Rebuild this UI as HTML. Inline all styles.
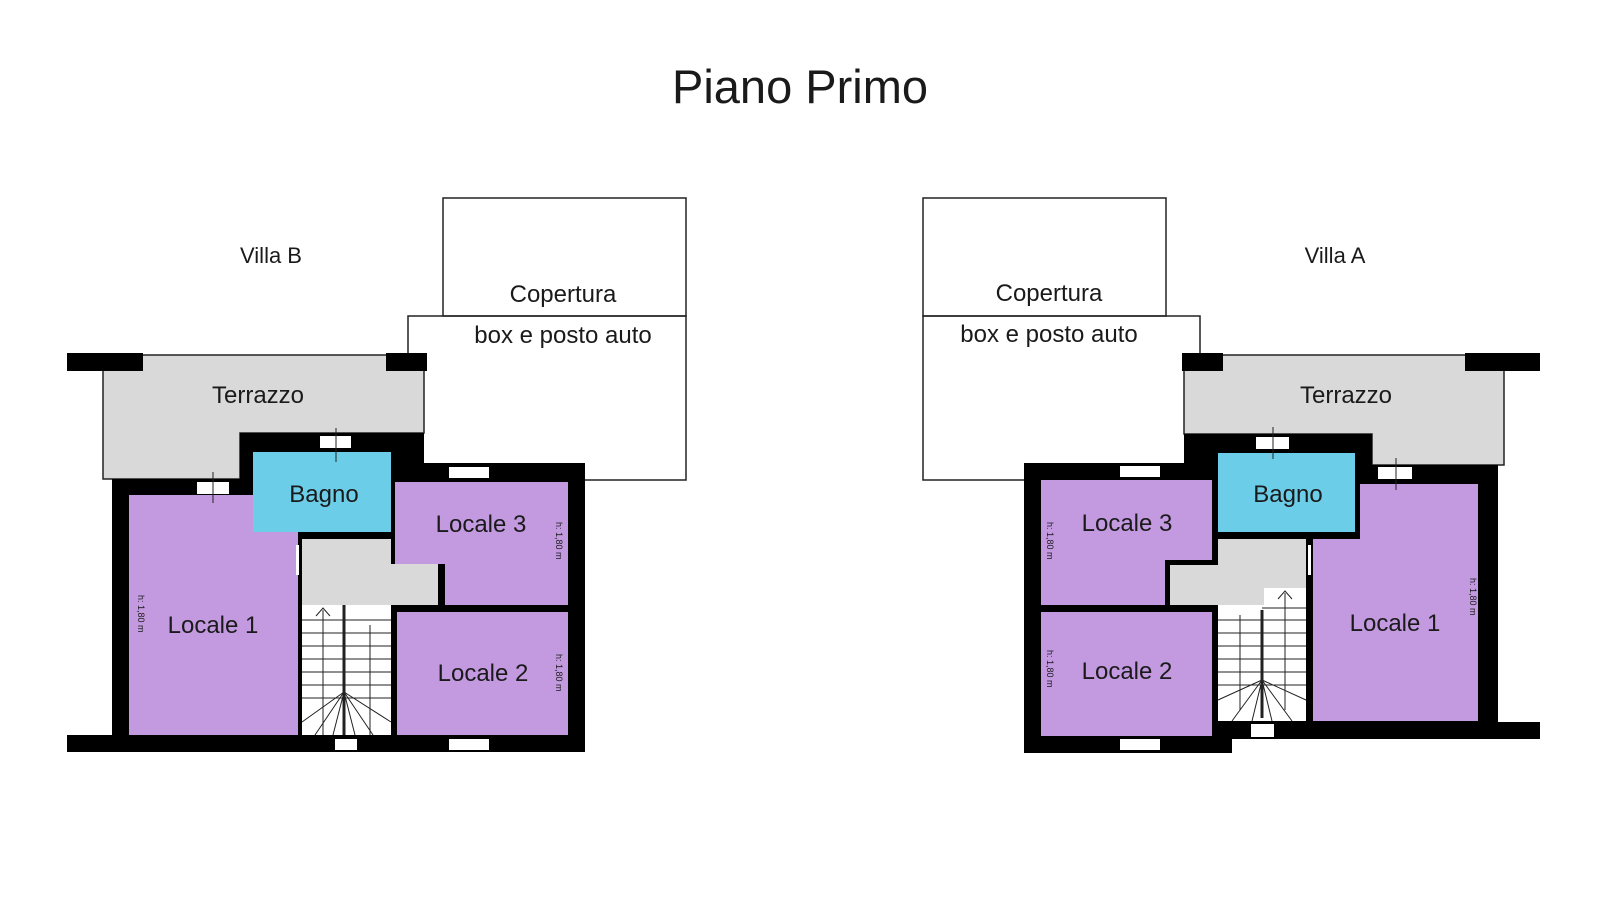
<!DOCTYPE html>
<html><head><meta charset="utf-8"><style>html,body{margin:0;padding:0;background:#fff}svg{display:block}text{font-family:"Liberation Sans",sans-serif;fill:#1a1a1a}</style></head>
<body>
<svg width="1600" height="900" viewBox="0 0 1600 900" xmlns="http://www.w3.org/2000/svg">
<rect width="1600" height="900" fill="#fff"/>
<text x="800" y="103" font-size="47" text-anchor="middle">Piano Primo</text>

<!-- ===== Villa B (left) ===== -->
<text x="271" y="263" font-size="22" text-anchor="middle">Villa B</text>
<rect x="443" y="198" width="243" height="118" fill="none" stroke="#222" stroke-width="1.5"/>
<rect x="408" y="316" width="278" height="164" fill="none" stroke="#222" stroke-width="1.5"/>
<text x="563" y="302" font-size="24" text-anchor="middle">Copertura</text>
<text x="563" y="343" font-size="24" text-anchor="middle">box e posto auto</text>
<polygon points="103,355 424,355 424,433 240,433 240,479 103,479" fill="#d9d9d9" stroke="#222" stroke-width="1.5"/>
<rect x="67" y="353" width="76" height="18" fill="#000"/>
<rect x="386" y="353" width="41" height="18" fill="#000"/>
<polygon points="112,479 240,479 240,433 424,433 424,463 585,463 585,752 67,752 67,735 112,735" fill="#000"/>
<rect x="129" y="495" width="169" height="240" fill="#c39ae0"/>
<rect x="253" y="452" width="138" height="80" fill="#6ccde8"/>
<polygon points="302,539 391,539 391,564 438,564 438,605 302,605" fill="#d9d9d9"/>
<rect x="302" y="605" width="89" height="130" fill="#fff"/>
<polygon points="395,482 568,482 568,605 445,605 445,564 395,564" fill="#c39ae0"/>
<rect x="397" y="612" width="171" height="123" fill="#c39ae0"/>
<g fill="#fff"><rect x="197" y="482" width="32" height="12"/><rect x="320" y="436" width="31" height="12"/><rect x="449" y="467" width="40" height="11"/><rect x="335" y="739" width="22" height="11"/><rect x="449" y="739" width="40" height="11"/><rect x="296" y="545" width="3" height="30"/></g>
<g stroke="#222" stroke-width="1" fill="none"><line x1="213" y1="472" x2="213" y2="503"/><line x1="336" y1="428" x2="336" y2="462"/>
<line x1="344" y1="605" x2="344" y2="735" stroke-width="3"/>
<path d="M323,735 V610 M316,616 L323,608 L330,616 M370,735 V625"/>
<path d="M302,620h42M302,633h42M302,646h42M302,659h42M302,672h42M302,685h42M302,698h42M344,620h47M344,633h47M344,646h47M344,659h47M344,672h47M344,685h47M344,698h47"/>
<path d="M344,692 L302,722 M344,692 L315,735 M344,692 L333,735 M344,692 L355,735 M344,692 L373,735 M344,692 L391,722"/></g>
<text x="324" y="502" font-size="24" text-anchor="middle">Bagno</text>
<text x="481" y="532" font-size="24" text-anchor="middle">Locale 3</text>
<text x="213" y="633" font-size="24" text-anchor="middle">Locale 1</text>
<text x="483" y="681" font-size="24" text-anchor="middle">Locale 2</text>
<text x="258" y="403" font-size="24" text-anchor="middle">Terrazzo</text>
<g font-size="9" fill="#555"><text transform="translate(138,595) rotate(90)">h: 1,80  m</text><text transform="translate(556,522) rotate(90)">h: 1,80  m</text><text transform="translate(556,654) rotate(90)">h: 1,80  m</text></g>

<!-- ===== Villa A (right) ===== -->
<text x="1335" y="263" font-size="22" text-anchor="middle">Villa A</text>
<rect x="923" y="198" width="243" height="118" fill="none" stroke="#222" stroke-width="1.5"/>
<rect x="923" y="316" width="277" height="164" fill="none" stroke="#222" stroke-width="1.5"/>
<text x="1049" y="301" font-size="24" text-anchor="middle">Copertura</text>
<text x="1049" y="342" font-size="24" text-anchor="middle">box e posto auto</text>
<polygon points="1184,355 1504,355 1504,465 1372,465 1372,434 1184,434" fill="#d9d9d9" stroke="#222" stroke-width="1.5"/>
<rect x="1182" y="353" width="41" height="18" fill="#000"/>
<rect x="1465" y="353" width="75" height="18" fill="#000"/>
<polygon points="1024,463 1184,463 1184,434 1372,434 1372,465 1498,465 1498,722 1540,722 1540,739 1232,739 1232,753 1024,753" fill="#000"/>
<polygon points="1041,480 1212,480 1212,560 1165,560 1165,605 1041,605" fill="#c39ae0"/>
<rect x="1041" y="612" width="171" height="124" fill="#c39ae0"/>
<rect x="1218" y="453" width="137" height="79" fill="#6ccde8"/>
<polygon points="1218,539 1306,539 1306,605 1170,605 1170,565 1218,565" fill="#d9d9d9"/>
<rect x="1218" y="605" width="88" height="116" fill="#fff"/>
<rect x="1264" y="588" width="42" height="20" fill="#fff"/>
<polygon points="1360,484 1478,484 1478,721 1313,721 1313,539 1360,539" fill="#c39ae0"/>
<g fill="#fff"><rect x="1256" y="437" width="33" height="12"/><rect x="1378" y="467" width="34" height="12"/><rect x="1120" y="466" width="40" height="11"/><rect x="1120" y="739" width="40" height="11"/><rect x="1251" y="724" width="23" height="13"/><rect x="1308" y="545" width="3" height="30"/></g>
<g stroke="#222" stroke-width="1" fill="none"><line x1="1273" y1="427" x2="1273" y2="459"/><line x1="1396" y1="458" x2="1396" y2="490"/>
<line x1="1262" y1="610" x2="1262" y2="718" stroke-width="3"/>
<path d="M1285,710 V593 M1278,599 L1285,591 L1292,599 M1240,710 V615"/>
<path d="M1218,620h44M1218,633h44M1218,646h44M1218,659h44M1218,672h44M1218,685h44M1262,608h44M1262,620h44M1262,633h44M1262,646h44M1262,659h44M1262,672h44M1262,685h44"/>
<path d="M1262,680 L1218,700 M1262,680 L1232,721 M1262,680 L1252,721 M1262,680 L1272,721 M1262,680 L1292,721 M1262,680 L1306,700"/></g>
<text x="1346" y="403" font-size="24" text-anchor="middle">Terrazzo</text>
<text x="1288" y="502" font-size="24" text-anchor="middle">Bagno</text>
<text x="1127" y="531" font-size="24" text-anchor="middle">Locale 3</text>
<text x="1127" y="679" font-size="24" text-anchor="middle">Locale 2</text>
<text x="1395" y="631" font-size="24" text-anchor="middle">Locale 1</text>
<g font-size="9" fill="#555"><text transform="translate(1047,522) rotate(90)">h: 1,80  m</text><text transform="translate(1047,650) rotate(90)">h: 1,80  m</text><text transform="translate(1470,578) rotate(90)">h: 1,80  m</text></g>
</svg>
</body></html>
